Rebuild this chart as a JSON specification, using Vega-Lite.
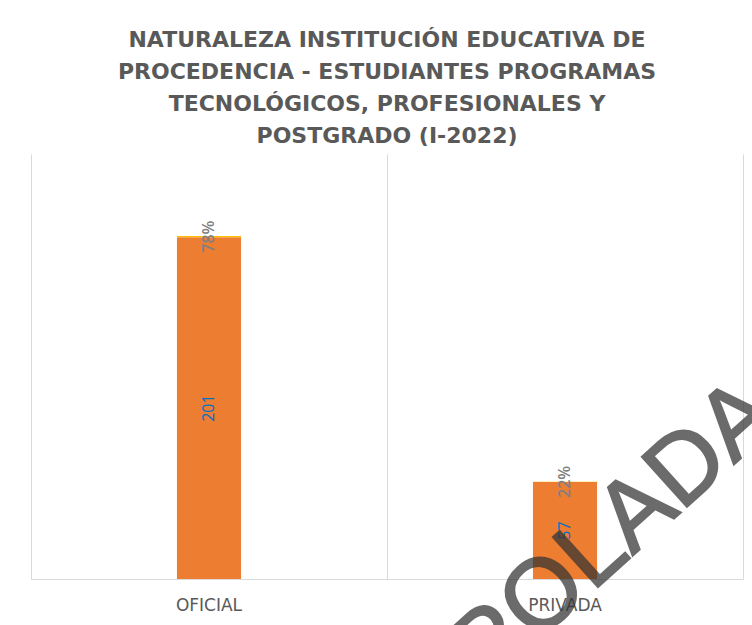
{
  "$schema": "https://vega.github.io/schema/vega-lite/v6.json",
  "width": 712,
  "height": 425,
  "autosize": {"type": "none"},
  "padding": {"left": 31, "top": 154, "right": 9, "bottom": 46},
  "background": "white",
  "config": {"view": {"stroke": null}, "font": "Open Sans"},
  "title": {
    "text": ["NATURALEZA INSTITUCIÓN EDUCATIVA DE", "PROCEDENCIA - ESTUDIANTES PROGRAMAS", "TECNOLÓGICOS, PROFESIONALES Y", "POSTGRADO (I-2022)"],
    "font": "DejaVu Sans",
    "fontSize": 22,
    "fontWeight": "bold",
    "color": "#595959",
    "lineHeight": 32,
    "anchor": "middle",
    "frame": "group",
    "offset": 6
  },
  "data": {
    "values": [
      {"naturaleza": "OFICIAL", "serie": "Cantidad", "valor": 201},
      {"naturaleza": "OFICIAL", "serie": "Porcentaje", "valor": 0.78},
      {"naturaleza": "PRIVADA", "serie": "Cantidad", "valor": 57},
      {"naturaleza": "PRIVADA", "serie": "Porcentaje", "valor": 0.22}
    ]
  },
  "transform": [
    {"stack": "valor", "groupby": ["naturaleza"], "sort": [{"field": "serie", "order": "ascending"}], "as": ["v0", "v1"]},
    {"calculate": "(datum.v0 + datum.v1) / 2", "as": "vmid"}
  ],
  "encoding": {
    "x": {
      "field": "naturaleza",
      "type": "nominal",
      "sort": ["OFICIAL", "PRIVADA"],
      "scale": {"paddingInner": 0, "paddingOuter": 0},
      "axis": {
        "title": null,
        "orient": "bottom",
        "labelAngle": 0,
        "labelFont": "DejaVu Sans",
        "labelFontSize": 17,
        "labelColor": "#595959",
        "labelPadding": 18,
        "ticks": false,
        "domainColor": "#D9D9D9",
        "grid": true,
        "gridColor": "#D9D9D9",
        "bandPosition": 0
      }
    }
  },
  "layer": [
    {
      "mark": {"type": "bar", "width": {"band": 0.18}},
      "encoding": {
        "y": {
          "field": "v0",
          "type": "quantitative",
          "scale": {"domain": [0, 250], "nice": false},
          "axis": {"orient": "right", "title": null, "labels": false, "ticks": false, "grid": false, "domainColor": "#D9D9D9"}
        },
        "y2": {"field": "v1"},
        "color": {
          "field": "serie",
          "type": "nominal",
          "scale": {"domain": ["Cantidad", "Porcentaje"], "range": ["#ED7D31", "#FFC000"]},
          "legend": null
        }
      }
    },
    {
      "transform": [{"filter": "datum.serie === 'Cantidad'"}],
      "mark": {"type": "text", "angle": 270, "align": "center", "baseline": "middle", "font": "Open Sans", "fontSize": 16, "color": "#0070C0"},
      "encoding": {
        "y": {"field": "vmid", "type": "quantitative"},
        "text": {"field": "valor", "type": "quantitative", "format": ".0f"}
      }
    },
    {
      "transform": [{"filter": "datum.serie === 'Porcentaje'"}],
      "mark": {"type": "text", "angle": 270, "align": "center", "baseline": "middle", "font": "Open Sans", "fontSize": 16, "fontWeight": 600, "color": "#808080"},
      "encoding": {
        "y": {"field": "vmid", "type": "quantitative"},
        "text": {"field": "valor", "type": "quantitative", "format": ".0%"}
      }
    },
    {
      "data": {"values": [{"marca": "CONTROLADA"}]},
      "mark": {"type": "text", "angle": 318, "align": "center", "baseline": "alphabetic", "font": "Liberation Sans", "fontSize": 98, "color": "#333333", "stroke": "#333333", "strokeWidth": 2, "opacity": 0.72, "dx": -48, "clip": false},
      "encoding": {
        "x": {"datum": "PRIVADA"},
        "y": {"datum": -22.2},
        "text": {"field": "marca"}
      }
    }
  ]
}
